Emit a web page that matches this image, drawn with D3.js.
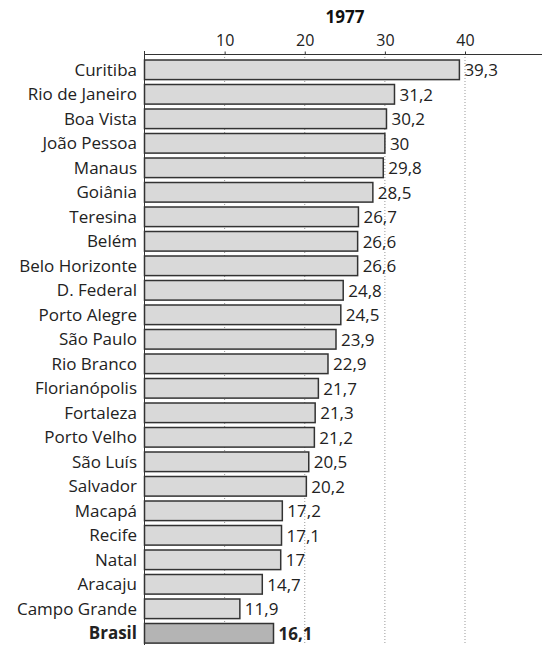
<!DOCTYPE html>
<html><head><meta charset="utf-8">
<script src="https://cdn.jsdelivr.net/npm/d3@7"></script>
<style>body{margin:0;background:#fff}svg{display:block}</style>
</head><body>
<script>
const title = "1977";
const cities = ["Curitiba","Rio de Janeiro","Boa Vista","João Pessoa","Manaus","Goiânia","Teresina","Belém","Belo Horizonte","D. Federal","Porto Alegre","São Paulo","Rio Branco","Florianópolis","Fortaleza","Porto Velho","São Luís","Salvador","Macapá","Recife","Natal","Aracaju","Campo Grande","Brasil"];
const values = [39.3,31.2,30.2,30,29.8,28.5,26.7,26.6,26.6,24.8,24.5,23.9,22.9,21.7,21.3,21.2,20.5,20.2,17.2,17.1,17,14.7,11.9,16.1];
const tickValues = [10,20,30,40];
const totalLabel = "Brasil";

const W = 542, H = 645;
const font = "'Open Sans', 'Noto Sans', sans-serif";
const svg = d3.select("body").append("svg").attr("width", W).attr("height", H);

const x = d3.scaleLinear().domain([0, 40]).range([144.5, 465]);
const y = d3.scaleBand().domain(cities).range([55.1, 648]).paddingInner(0.2).paddingOuter(0.2);

// gridlines
svg.append("g").selectAll("line").data(tickValues).join("line")
  .attr("x1", d => x(d)).attr("x2", d => x(d))
  .attr("y1", 54).attr("y2", H)
  .attr("stroke", "#999").attr("stroke-width", 1).attr("stroke-dasharray", "1,2");

// axis
const axis = d3.axisTop(x).tickValues(tickValues).tickSize(3).tickSizeOuter(0).tickFormat(d3.format("d"));
const gAxis = svg.append("g").attr("transform", "translate(0,54.5)").call(axis);
gAxis.select(".domain").remove();
gAxis.selectAll("line").attr("stroke", "#333");
gAxis.selectAll("text").attr("font-family", font).attr("font-size", 16).attr("fill", "#222").attr("dy", "-0.15em");
svg.append("line").attr("x1", 144).attr("x2", W).attr("y1", 54.5).attr("y2", 54.5).attr("stroke", "#333").attr("stroke-width", 1);
svg.append("line").attr("x1", 144.5).attr("x2", 144.5).attr("y1", 51).attr("y2", H).attr("stroke", "#333").attr("stroke-width", 1);

// title
svg.append("text").attr("x", 345).attr("y", 23).attr("text-anchor", "middle")
  .attr("font-family", font).attr("font-weight", "bold").attr("font-size", 17).attr("fill", "#111").text(title);

const data = cities.map((c, i) => ({c, v: values[i]}));

// bars
svg.append("g").selectAll("rect").data(data).join("rect")
  .attr("x", x(0)).attr("y", d => y(d.c))
  .attr("width", d => x(d.v) - x(0)).attr("height", y.bandwidth())
  .attr("fill", d => d.c === totalLabel ? "#b4b4b4" : "#d9d9d9")
  .attr("stroke", "#333").attr("stroke-width", 1.5);

// category labels
svg.append("g").selectAll("text").data(data).join("text")
  .attr("x", 137).attr("y", d => y(d.c) + y.bandwidth() / 2).attr("dy", "0.36em")
  .attr("text-anchor", "end").attr("font-family", font).attr("font-size", 17)
  .attr("font-weight", d => d.c === totalLabel ? "bold" : "normal")
  .attr("fill", "#222").text(d => d.c);

// value labels
const fmt = v => String(v).replace(".", ",");
svg.append("g").selectAll("text").data(data).join("text")
  .attr("x", d => x(d.v) + 5).attr("y", d => y(d.c) + y.bandwidth() / 2).attr("dy", "0.38em")
  .attr("font-family", font).attr("font-size", 17)
  .attr("font-weight", d => d.c === totalLabel ? "bold" : "normal")
  .attr("fill", "#222").text(d => fmt(d.v));
</script>
</body></html>
